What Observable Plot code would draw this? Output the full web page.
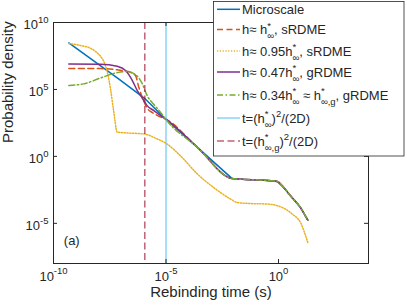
<!DOCTYPE html>
<html><head><meta charset="utf-8">
<script src="https://cdn.jsdelivr.net/npm/d3@7"></script>
<script src="https://cdn.jsdelivr.net/npm/@observablehq/plot@0.6"></script>
<style>body{margin:0;background:#fff;} svg{display:block}</style>
</head><body><div id="chart"></div>
<script>
// ---- data ----
const xTicks = [1e-10, 1e-5, 1e0];
const yTicks = [1e-5, 1e0, 1e5, 1e10];

// shared converged tail (all curves except h≈0.95h*)
const tailT = [9.5e-6, 2.5e-4, 8.7e-3, 0.034, 0.16, 0.87, 1.7, 3.4, 9.5, 20];
const tailP = [630, 4.7, 0.022, 0.019, 0.017, 0.0135, 4.8e-3, 1.15e-3, 1.5e-4, 1.7e-5];

const microT = [4.8e-10, 1.2e-8, 6.8e-8, 1.2e-6];
const microP = [3.0e8, 6.0e6, 7.2e5, 1.95e4];

const sRdmeT = [4.8e-10, 1.2e-8, 6.8e-8, 2.6e-7, 4.4e-7, 6.2e-7, 1.0e-6, 1.45e-6, 2.5e-6, 4.8e-6];
const sRdmeP = [3.6e6, 3.6e6, 2.9e6, 1.9e6, 1.1e6, 1.45e5, 1.5e4, 4.0e3, 1.85e3, 1.0e3];

const s95T = [4.8e-10, 1.6e-9, 4.4e-9, 7.4e-9, 1.2e-8, 1.9e-8, 2.5e-8, 3.4e-8, 4.7e-8, 6.8e-8, 1.9e-7, 1.0e-6, 4.1e-6, 1.1e-5, 4.4e-5, 2.5e-4, 1.3e-3, 7.4e-3, 0.0145, 0.057, 0.32, 1.45, 4.1, 9.5, 20];
const s95P = [2.7e8, 1.9e8, 1.2e8, 6.8e7, 3.1e7, 8.5e6, 1.8e6, 1.15e5, 2.6e3, 65, 56, 48, 20, 8.5, 1.1, 0.048, 4.8e-3, 6.5e-4, 3.6e-4, 3.0e-4, 2.75e-4, 1.55e-4, 4.9e-5, 1.15e-5, 3.7e-7];

const g47T = [4.8e-10, 1.2e-8, 6.8e-8, 1.6e-7, 3.2e-7, 5.3e-7, 8.8e-7, 1.45e-6, 2.9e-6, 5.8e-6];
const g47P = [7.9e6, 7.6e6, 5.4e6, 2.6e6, 4.6e5, 8.2e4, 2.3e4, 6.2e3, 2.6e3, 1.1e3];

const g34T = [4.8e-10, 2.2e-9, 1.2e-8, 6.8e-8, 1.9e-7, 4.4e-7, 8.7e-7, 1.45e-6, 2.9e-6, 5.8e-6];
const g34P = [2.0e5, 2.6e5, 7.1e5, 1.8e6, 2.2e6, 1.3e6, 2.8e5, 3.5e4, 7.4e3, 1.95e3];

const tStar = 1e-5;      // t=(h*_inf)^2/(2D)
const tStarG = 1.15e-6;  // t=(h*_inf,g)^2/(2D)

// ---- build tables ----
const toRows = (T, P) => T.map((t, i) => ({t, p: P[i]}));
const withTail = (T, P) => toRows(T.concat(tailT), P.concat(tailP));
const micro = withTail(microT, microP);
const sRdme = withTail(sRdmeT, sRdmeP);
const s95 = toRows(s95T, s95P);
const g47 = withTail(g47T, g47P);
const g34 = withTail(g34T, g34P);

const FONT = "Liberation Sans, Arial, Helvetica, sans-serif";
const INK = "#262626";
const W = 407, H = 305, ML = 53, MR = 39, MT = 22, MB = 42;
const PW = W - ML - MR, PH = H - MT - MB;

const C = {blue:"#0072BD", orange:"#D95319", yellow:"#EDB120", purple:"#7E2F8E", green:"#77AC30", cyan:"#4DBEEE", red:"#A2142F"};
const lineOpts = (stroke, dash, curve = "monotone-x") => ({x:"t", y:"p", stroke, strokeWidth:1.5, strokeDasharray:dash, curve});
const expo = d => String(Math.round(Math.log10(d)));

const svg = Plot.plot({
  width: W, height: H,
  marginLeft: ML, marginRight: MR, marginTop: MT, marginBottom: MB,
  x: {type:"log", domain:[1e-10, 1e4], axis:null},
  y: {type:"log", domain:[1e-8, 1e10], axis:null},
  style: {fontFamily: FONT, color: INK, background: "white"},
  marks: [
    Plot.line(micro, lineOpts(C.blue, null, "linear")),
    Plot.line(sRdme, lineOpts(C.orange, "6,3.5")),
    Plot.line(s95, lineOpts(C.yellow, "1.2,1.6")),
    Plot.line(g47, lineOpts(C.purple, null)),
    Plot.line(g34, lineOpts(C.green, "6,2.5,1.5,2.5")),
    Plot.ruleX([tStar], {x: d => d, stroke: C.cyan, strokeWidth: 1}),
    Plot.ruleX([tStarG], {x: d => d, stroke: C.red, strokeWidth: 1, strokeDasharray: "7,3.5"}),
    Plot.frame({stroke: INK, strokeWidth: 1}),
    Plot.ruleX(xTicks, {x: d => d, stroke: INK, insetTop: PH - 4}),
    Plot.ruleX(xTicks, {x: d => d, stroke: INK, insetBottom: PH - 4}),
    Plot.ruleY(yTicks, {y: d => d, stroke: INK, insetRight: PW - 4}),
    Plot.ruleY(yTicks, {y: d => d, stroke: INK, insetLeft: PW - 4}),
    Plot.text(xTicks, {x: d => d, frameAnchor: "bottom", dy: 17.5, text: expo, fontSize: 13, fill: INK, ariaLabel: () => "xticklabel"}),
    Plot.text(yTicks, {y: d => d, frameAnchor: "left", dx: -5, dy: 2.6, textAnchor: "end", text: expo, fontSize: 13, fill: INK, ariaLabel: () => "yticklabel"}),
    Plot.text(["Rebinding time (s)"], {frameAnchor: "bottom", dy: 33.5, text: d => d, fontSize: 15, fill: INK}),
    Plot.text(["Probability density"], {frameAnchor: "left", dx: -45.5, rotate: -90, text: d => d, fontSize: 15, fill: INK}),
    Plot.text(["(a)"], {frameAnchor: "bottom-left", dx: 10.3, dy: -19, textAnchor: "start", text: d => d, fontSize: 13, fill: INK})
  ]
});
document.getElementById("chart").append(svg);

// power-of-ten tick labels: "10" with the exponent raised
const NS = "http://www.w3.org/2000/svg";
function powTen(label, shift) {
  svg.querySelectorAll("text").forEach(t => {
    const own = t.getAttribute("aria-label");
    const parent = t.parentNode && t.parentNode.getAttribute && t.parentNode.getAttribute("aria-label");
    if (own !== label && parent !== label) return;
    const e = t.textContent; t.textContent = "";
    const a = document.createElementNS(NS, "tspan"); a.textContent = "10"; t.appendChild(a);
    const b = document.createElementNS(NS, "tspan"); b.textContent = e;
    b.setAttribute("dy", shift); b.setAttribute("font-size", 9.5); t.appendChild(b);
  });
}
powTen("xticklabel", -7);
powTen("yticklabel", -6.5);

// ---- legend ----
const legendItems = [
  {label: ["Microscale"], color: C.blue, dash: null, w: 1.5},
  {label: ["h≈ h", {sup: "*", sub: "∞"}, ", sRDME"], color: C.orange, dash: "6,3.5", w: 1.5},
  {label: ["h≈ 0.95h", {sup: "*", sub: "∞"}, ", sRDME"], color: C.yellow, dash: "1.2,1.6", w: 1.5},
  {label: ["h≈ 0.47h", {sup: "*", sub: "∞"}, ", gRDME"], color: C.purple, dash: null, w: 1.5},
  {label: ["h≈ 0.34h", {sup: "*", sub: "∞"}, " ≈ h", {sup: "*", sub: "∞,g"}, ", gRDME"], color: C.green, dash: "6,2.5,1.5,2.5", w: 1.5},
  {label: ["t=(h", {sup: "*", sub: "∞"}, ")", {sup: "2"}, "/(2D)"], color: C.cyan, dash: null, w: 1},
  {label: ["t=(h", {sup: "*", sub: "∞,g"}, ")", {sup: "2"}, "/(2D)"], color: C.red, dash: "7,3.5", w: 1}
];
const rowY = [9.3, 29.5, 51, 72, 95, 118, 141];
const L = d3.select(svg).append("g").attr("font-family", FONT).attr("fill", INK).attr("text-anchor", "start");
L.append("rect").attr("x", 213.5).attr("y", 1.5).attr("width", 190.5).attr("height", 154.5)
  .attr("fill", "white").attr("stroke", INK).attr("stroke-width", 0.8);
legendItems.forEach((it, i) => {
  const y = rowY[i];
  L.append("line").attr("x1", 217).attr("x2", 240).attr("y1", y).attr("y2", y)
    .attr("stroke", it.color).attr("stroke-width", it.w).attr("stroke-dasharray", it.dash);
  let x = 242; const base = y + 4.5;
  for (const seg of it.label) {
    if (typeof seg === "string") {
      const t = L.append("text").attr("x", x).attr("y", base).attr("font-size", 13).attr("text-anchor", "start").text(seg);
      x += t.node().getComputedTextLength();
    } else {
      let w = 0;
      if (seg.sup) { const t = L.append("text").attr("x", x).attr("y", base - 5.5).attr("font-size", 9.5).attr("text-anchor", "start").text(seg.sup); w = Math.max(w, t.node().getComputedTextLength()); }
      if (seg.sub) { const t = L.append("text").attr("x", x).attr("y", base + 5).attr("font-size", 9.5).attr("text-anchor", "start").text(seg.sub); w = Math.max(w, t.node().getComputedTextLength()); }
      x += w;
    }
  }
});
</script>
</body></html>
